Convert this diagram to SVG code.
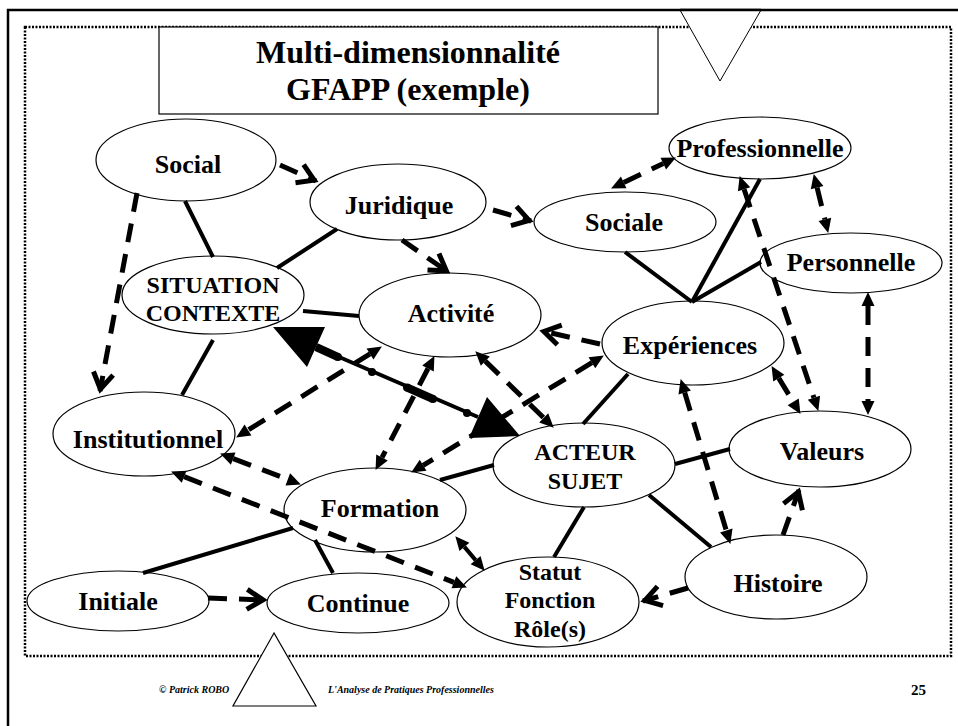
<svg xmlns="http://www.w3.org/2000/svg" width="958" height="726" viewBox="0 0 958 726">
<style>
.node ellipse{fill:#fff;stroke:#000;stroke-width:1.2}
text{font-family:'Liberation Serif','Times New Roman',Times,'DejaVu Serif',serif;font-weight:bold;fill:#000}
.node text{font-size:26px;text-anchor:middle}
.node text.sm{font-size:24px}
.ttl{font-size:32px;text-anchor:middle}
.solid{stroke:#000;stroke-width:4;fill:none}
.dash{stroke:#000;stroke-width:5;stroke-dasharray:19 12;fill:none}
.fh{marker-start:url(#fill);marker-end:url(#fill)}
.oh{marker-end:url(#open)}
.foot{font-style:italic;font-size:10px}
</style>
<defs>
<marker id="fill" markerUnits="userSpaceOnUse" orient="auto-start-reverse" refX="0" refY="0" markerWidth="16" markerHeight="16" style="overflow:visible">
<path d="M0,-6.5 L14,0 L0,6.5 z" fill="#000"/>
</marker>
<marker id="open" markerUnits="userSpaceOnUse" orient="auto" refX="0" refY="0" markerWidth="20" markerHeight="20" style="overflow:visible">
<path d="M-18,-10 L-2,0 L-18,10" fill="none" stroke="#000" stroke-width="5" stroke-linejoin="miter"/>
</marker>
</defs>
<rect width="958" height="726" fill="#fff"/>
<g id="frame">
<rect x="8" y="10" width="970" height="740" fill="none" stroke="#000" stroke-width="2.5"/>
<rect x="25" y="27" width="926" height="629" fill="none" stroke="#000" stroke-width="2.5" stroke-dasharray="2 1.5"/>
<polygon points="680,10 761,10 720,81" fill="#fff" stroke="#000" stroke-width="1"/>
<line x1="680" y1="10" x2="761" y2="10" stroke="#000" stroke-width="2.5"/>
<polygon points="274,633 233,706 316,706" fill="#fff" stroke="#000" stroke-width="1.2"/>
</g>
<g id="title">
<rect x="159" y="27" width="499" height="87" fill="#fff" stroke="#000" stroke-width="1.2"/>
<text class="ttl" x="408" y="63">Multi-dimensionnalité</text>
<text class="ttl" x="408" y="100">GFAPP (exemple)</text>
</g>
<g id="node-social" class="node"><ellipse cx="186" cy="160" rx="90" ry="41"/><text x="188" y="173">Social</text></g>
<g id="node-juridique" class="node"><ellipse cx="398" cy="202" rx="88" ry="38"/><text x="399" y="214">Juridique</text></g>
<g id="node-situation" class="node"><ellipse cx="213" cy="295" rx="91" ry="39"/><text class="sm" x="213" y="293">SITUATION</text><text class="sm" x="213" y="321">CONTEXTE</text></g>
<g id="node-activite" class="node"><ellipse cx="450" cy="315" rx="91" ry="42"/><text x="451" y="322">Activité</text></g>
<g id="node-sociale" class="node"><ellipse cx="625" cy="222" rx="91" ry="30"/><text x="624" y="231">Sociale</text></g>
<g id="node-professionnelle" class="node"><ellipse cx="760" cy="148" rx="91" ry="31"/><text x="760" y="157">Professionnelle</text></g>
<g id="node-personnelle" class="node"><ellipse cx="851" cy="263" rx="91" ry="30"/><text x="851" y="271">Personnelle</text></g>
<g id="node-experiences" class="node"><ellipse cx="693" cy="343" rx="91" ry="42"/><text x="690" y="354">Expériences</text></g>
<g id="node-valeurs" class="node"><ellipse cx="820" cy="449" rx="91" ry="38"/><text x="822" y="460">Valeurs</text></g>
<g id="node-acteur" class="node"><ellipse cx="584" cy="465" rx="91" ry="42"/><text class="sm" x="585" y="460">ACTEUR</text><text class="sm" x="585" y="489">SUJET</text></g>
<g id="node-institutionnel" class="node"><ellipse cx="144" cy="434" rx="91" ry="42"/><text x="148" y="448">Institutionnel</text></g>
<g id="node-formation" class="node"><ellipse cx="375" cy="510" rx="91" ry="42"/><text x="380" y="517">Formation</text></g>
<g id="node-initiale" class="node"><ellipse cx="118" cy="601" rx="91" ry="30"/><text x="118" y="610">Initiale</text></g>
<g id="node-continue" class="node"><ellipse cx="358" cy="603" rx="91" ry="30"/><text x="358" y="612">Continue</text></g>
<g id="node-statut" class="node"><ellipse cx="548" cy="602" rx="91" ry="45"/><text class="sm" x="550" y="580">Statut</text><text class="sm" x="550" y="608">Fonction</text><text class="sm" x="550" y="637">Rôle(s)</text></g>
<g id="node-histoire" class="node"><ellipse cx="776" cy="577" rx="91" ry="42"/><text x="778" y="592">Histoire</text></g>
<g id="connectors">
<line class="solid" x1="185" y1="201" x2="213" y2="257"/>
<line class="solid" x1="337" y1="229" x2="277" y2="268"/>
<line class="solid" x1="303" y1="311" x2="359" y2="316"/>
<line class="solid" x1="213" y1="340" x2="182" y2="395"/>
<line class="solid" x1="625" y1="252" x2="692" y2="302"/>
<line class="solid" x1="760" y1="179" x2="692" y2="302"/>
<line class="solid" x1="761" y1="262" x2="692" y2="302"/>
<line class="solid" x1="628" y1="374" x2="583" y2="424"/>
<line class="solid" x1="675" y1="464" x2="730" y2="449"/>
<line class="solid" x1="584" y1="507" x2="554" y2="557"/>
<line class="solid" x1="649" y1="495" x2="711" y2="547"/>
<line class="solid" x1="440" y1="480" x2="494" y2="465"/>
<line class="solid" x1="143" y1="573" x2="293" y2="528"/>
<line class="solid" x1="315" y1="540" x2="333" y2="573"/>
<line class="solid fh" x1="464.4" y1="546.9" x2="475.6" y2="560.1"/>
<line class="dash oh" x1="280" y1="165" x2="316" y2="181"/>
<line class="dash oh" x1="402" y1="240" x2="448" y2="272"/>
<line class="dash oh" x1="493" y1="210" x2="531" y2="221"/>
<line class="dash oh" x1="137" y1="193" x2="100" y2="391"/>
<line class="dash oh" x1="783" y1="535" x2="799" y2="490"/>
<line class="dash oh" x1="688" y1="588" x2="643" y2="601"/>
<line class="dash oh" x1="600" y1="344" x2="542" y2="331"/>
<line class="dash oh" x1="208" y1="598" x2="265" y2="600"/>
<line class="dash fh" x1="623.7" y1="182.4" x2="663.3" y2="163.6"/>
<line class="dash fh" x1="817.1" y1="187.6" x2="824.9" y2="219.4"/>
<line class="dash fh" x1="744.1" y1="189.3" x2="813.9" y2="397.7"/>
<line class="dash fh" x1="868" y1="306" x2="868" y2="401"/>
<line class="dash fh" x1="778.8" y1="378.1" x2="793.2" y2="401.9"/>
<line class="dash fh" x1="684.7" y1="392.5" x2="726.3" y2="530.5"/>
<line class="dash fh" x1="591.9" y1="362.7" x2="423.1" y2="465.3"/>
<line class="dash fh" x1="428" y1="368.5" x2="382" y2="457.5"/>
<line class="dash fh" x1="370" y1="353.9" x2="248" y2="430.1"/>
<line class="dash fh" x1="485.3" y1="361.1" x2="543.7" y2="417.9"/>
<line class="dash fh" x1="233.2" y1="458.6" x2="287.8" y2="479.4"/>
<line class="dash fh" x1="184.1" y1="476.7" x2="453.9" y2="582.3"/>
<g id="main-arrow">
<line x1="316" y1="347" x2="478" y2="417" stroke="#000" stroke-width="4"/>
<line x1="316" y1="347" x2="338" y2="357" stroke="#000" stroke-width="8"/>
<line x1="407" y1="387.5" x2="433" y2="399" stroke="#000" stroke-width="8"/>
<circle cx="338" cy="357" r="4"/>
<circle cx="372" cy="372" r="4"/>
<circle cx="407" cy="387.5" r="4"/>
<circle cx="433" cy="399" r="4"/>
<circle cx="467" cy="413" r="4"/>
<polygon points="273,327 325,327 307,367"/>
<polygon points="520,436 487,397 469,438"/>
</g>
</g>
<g id="footer">
<text class="foot" x="159" y="693">© Patrick ROBO</text>
<text class="foot" x="328" y="693">L'Analyse de Pratiques Professionnelles</text>
<text x="911" y="695" font-size="15">25</text>
</g>
</svg>
